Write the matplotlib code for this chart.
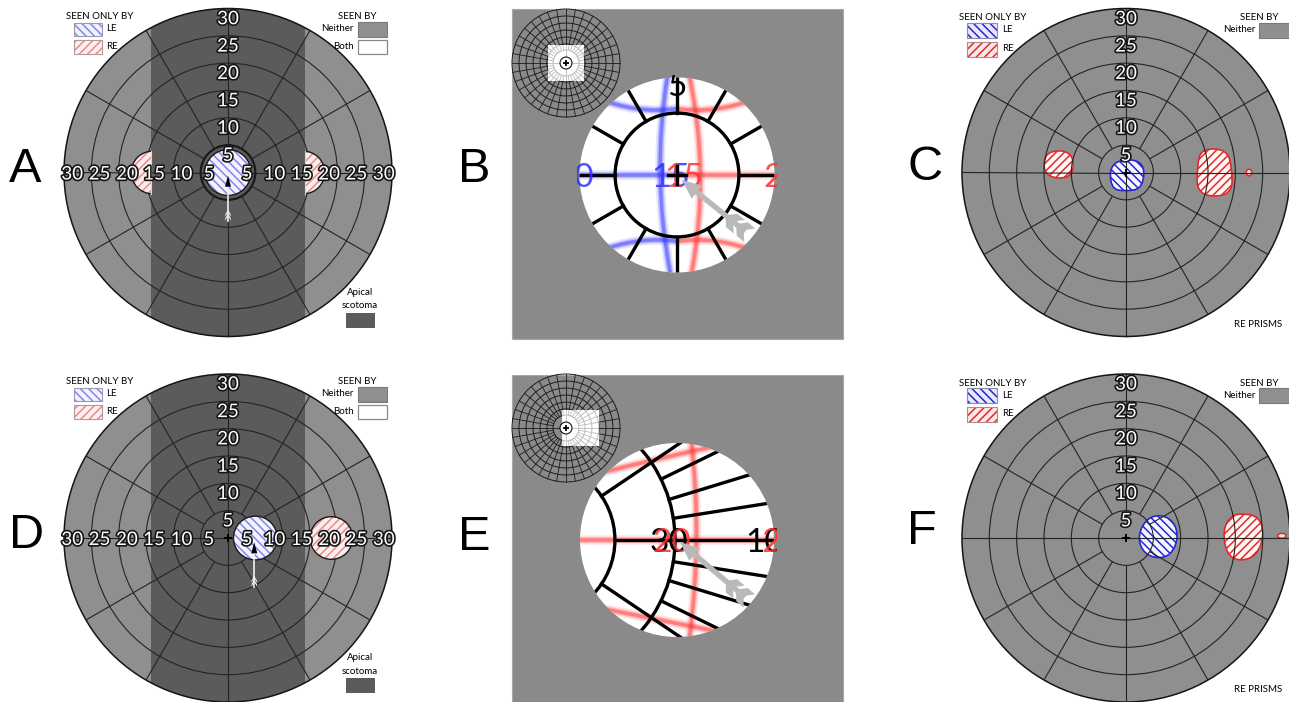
import numpy as np
import matplotlib
matplotlib.use("Agg")
import matplotlib.pyplot as plt
from matplotlib.patches import Circle, Rectangle, Polygon, PathPatch, Ellipse, FancyArrow
from matplotlib.path import Path
import matplotlib.patheffects as pe

plt.rcParams['hatch.linewidth'] = 1.1
plt.rcParams['font.family'] = ['Lato', 'DejaVu Sans']

# ------------------------------------------------------------------ data
panel_letters = ['A', 'B', 'C', 'D', 'E', 'F']
ring_values = [5, 10, 15, 20, 25, 30]            # deg
spoke_angles = list(range(0, 360, 30))           # deg
meridian_labels = ['5', '10', '15', '20', '25', '30']
apical_halfwidth = 14.0                          # deg (apical scotoma band, A & D)

# A / D : seen-only-by regions (x, y, radius) in deg
A_le_circle = (0.0, 0.0, 4.2)
A_re_halfdiscs = [(13.8, 0.0, 3.9, 'right'), (-13.8, 0.0, 3.9, 'left')]
A_arrow = (0.0, -8.8, -0.6)          # x, tail y, tip y
D_le_circle = (5.0, 0.0, 4.0)
D_re_circle = (18.9, 0.0, 3.9)
D_arrow = (4.8, -8.9, -0.8)

# C / F : outlines of regions (control points, deg)
C_le_blob = [(-2.8, 2.2), (3.3, 2.4), (3.2, -2.8), (0.0, -3.5), (-2.9, -2.9)]
C_re_blob_left = [(-15.0, 3.9), (-9.7, 4.0), (-9.6, -1.1), (-15.0, -0.9)]
C_re_blob_right = [(13.9, 4.4), (18.4, 4.2), (19.4, 1.0), (19.4, -4.3), (13.0, -4.3), (13.0, 1.5)]
C_re_spot = (22.5, 0.0, 1.0, 1.2)
F_le_blob = [(6.4, 4.3), (8.8, 3.0), (9.6, 0.0), (8.2, -3.2), (5.4, -3.8),
             (2.9, -2.4), (2.2, 0.6), (3.8, 3.6)]
F_re_blob = [(21.5, 4.5), (24.3, 3.9), (25.3, 0.8), (24.0, -3.2), (20.8, -4.3),
             (18.4, -3.0), (17.7, 1.4), (19.2, 4.1)]
F_re_spot = (28.5, 0.4, 1.5, 0.9)

# small overview grids in B / E
inset_rings = [3.3, 7.2, 10.6, 14.4, 18.3, 22.2, 26.1, 30]
inset_spokes = list(range(0, 360, 10))
B_inset_white = (-10.0, -10.0, 20.0, 20.0)      # x, y, w, h
E_inset_white = (-2.2, -10.0, 20.5, 20.0)

# magnified views (unit = view radius)
B_blue_curves = [[(-0.10, 1.0), (-0.26, 0.0), (-0.07, -1.0)],
                 [(-1.0, 0.0), (-0.5, 0.0), (0.0, 0.0)],
                 [(-0.85, 0.80), (-0.40, 0.62), (0.0, 0.68)],
                 [(-0.85, -0.80), (-0.40, -0.62), (0.0, -0.68)]]
B_red_curves = [[(0.13, 1.0), (0.34, 0.0), (0.15, -1.0)],
                [(0.0, 0.0), (0.5, 0.0), (1.0, 0.0)],
                [(0.0, 0.68), (0.40, 0.62), (0.85, 0.80)],
                [(0.0, -0.68), (0.40, -0.62), (0.85, -0.80)]]
B_ring = 0.635
B_texts = [('5', 0.0, 0.93, 'black'), ('10', -1.05, 0.0, '#3030ff'),
           ('20', 1.08, 0.0, '#ff3030'), ('15', -0.06, 0.0, '#3030ff'),
           ('15', 0.07, 0.0, '#ff3030')]
B_arrow = ((0.70, -0.58), (0.05, -0.05))

E_arc_center = -1.45
E_arcs = [0.81, 1.43]
E_spokes_outer = [9, 17, 26, -9, -17, -26]
E_spokes_inner = [34, -34]
E_red_curves = [[(0.15, 1.0), (0.26, 0.0), (0.13, -1.0)],
                [(-1.0, 0.0), (0.0, 0.0), (1.0, 0.0)],
                [(-0.80, 0.69), (-0.2, 0.84), (0.45, 0.98)],
                [(-0.80, -0.70), (-0.2, -0.82), (0.45, -0.95)]]
E_texts = [('30', -0.08, 0.0, 'black'), ('20', -0.05, 0.0, '#ff3030'),
           ('10', 0.90, 0.0, 'black'), ('2', 0.97, 0.0, '#ff3030')]
E_arrow = ((0.70, -0.59), (0.03, -0.02))

legend_only_by = ['SEEN ONLY BY', 'LE', 'RE']
legend_seen_by = ['SEEN BY', 'Neither', 'Both']
legend_apical = ['Apical', 'scotoma']
prisms_note = 'RE PRISMS'

# ------------------------------------------------------------------ style
W, H, DPI = 1289, 702, 100
SCALE = 164.0 / 30.0          # px per deg
GRID = '#232323'
DISC_AD = '#8f8f8f'
BAND = '#5b5b5b'
DISC_CF = '#8f8f8f'
SQUARE = '#8a8a8a'
BLUE_L, RED_L = '#8585ea', '#e98a8a'
BLUE_S, RED_S = '#2626d6', '#e02a2a'

fig = plt.figure(figsize=(W / DPI, H / DPI), dpi=DPI)

ov = fig.add_axes([0, 0, 1, 1], zorder=0)
ov.set_xlim(0, W); ov.set_ylim(H, 0); ov.set_axis_off()
top = fig.add_axes([0, 0, 1, 1], zorder=20)
top.set_xlim(0, W); top.set_ylim(H, 0); top.set_axis_off()


def add_axes_px(cx, cy, half, scale, z=5):
    ax = fig.add_axes([(cx - half) / W, (H - cy - half) / H, 2 * half / W, 2 * half / H], zorder=z)
    lim = half / scale
    ax.set_xlim(-lim, lim); ax.set_ylim(-lim, lim)
    ax.set_axis_off()
    return ax


def outlined(ax, x, y, s, size=13.5, lw=2.4):
    ax.text(x, y, s, fontsize=size, color='white', ha='center', va='center_baseline',
            path_effects=[pe.Stroke(linewidth=lw, foreground='#161616'), pe.Normal()], zorder=12)


def smooth_closed(pts):
    pts = np.asarray(pts, float)
    n = len(pts)
    mids = (pts + np.roll(pts, -1, axis=0)) / 2
    verts = [mids[-1]]
    codes = [Path.MOVETO]
    for i in range(n):
        verts += [pts[i], mids[i]]
        codes += [Path.CURVE3, Path.CURVE3]
    return Path(verts, codes)


def draw_field(ax, disc_color, band=False, hlabels=True, through=(0, 90, 180, 270), plus=False):
    disc = Circle((0, 0), 30, fc=disc_color, ec='none', zorder=1)
    ax.add_patch(disc)
    if band:
        b = Rectangle((-apical_halfwidth, -31), 2 * apical_halfwidth, 62, fc=BAND, ec='none', zorder=1.2)
        ax.add_patch(b)
        b.set_clip_path(disc)
    for r in ring_values[:-1]:
        ax.add_patch(Circle((0, 0), r, fill=False, ec=GRID, lw=0.8, zorder=3))
    ax.add_patch(Circle((0, 0), 30, fill=False, ec='#151515', lw=1.1, zorder=3))
    for a in spoke_angles:
        t = np.deg2rad(a)
        r0 = 0 if a in through else ring_values[0]
        ax.plot([r0 * np.cos(t), 30 * np.cos(t)], [r0 * np.sin(t), 30 * np.sin(t)],
                color=GRID, lw=0.8, zorder=3, solid_capstyle='butt')
    if plus:
        ax.plot([0], [0], marker='+', ms=6, mew=1.4, color='black', zorder=9)
    for v, s in zip(ring_values, meridian_labels):
        outlined(ax, 0, v - 1.6, s)
        if hlabels:
            outlined(ax, v - 1.5, 0, s)
            outlined(ax, -(v - 1.5), 0, s)


def hatched_circle(ax, x, y, r, fc, hc, hatch, z=4):
    ax.add_patch(Circle((x, y), r, fc=fc, ec=hc, lw=0, hatch=hatch, zorder=z))
    ax.add_patch(Circle((x, y), r, fill=False, ec='#1a1a1a', lw=1.0, zorder=z + 0.1))


def draw_arrow_small(ax, x, y0, y1):
    ax.plot([x, x], [y0, y1 - 1.5], color='#f2f2f2', lw=1.2, zorder=8)
    ax.add_patch(Polygon([(x, y1), (x - 0.55, y1 - 2.0), (x + 0.55, y1 - 2.0)],
                         closed=True, fc='black', ec='none', zorder=9))
    for dy in (0.0, 0.7):
        ax.add_patch(Polygon([(x - 0.5, y0 + dy), (x, y0 + dy + 0.9), (x + 0.5, y0 + dy),
                              (x + 0.5, y0 + dy + 0.4), (x, y0 + dy + 1.3), (x - 0.5, y0 + dy + 0.4)],
                             closed=True, fc='#f4f4f4', ec='none', zorder=9))


def blob(ax, pts, fc, color, hatch):
    p = smooth_closed(pts)
    ax.add_patch(PathPatch(p, fc=fc, ec=color, lw=0, hatch=hatch, zorder=2))
    ax.add_patch(PathPatch(p, fill=False, ec=color, lw=1.2, zorder=2.1))


def spot(ax, spec, color):
    x, y, w, h = spec
    ax.add_patch(Ellipse((x, y), w, h, fc='#f4dede', ec=color, lw=1.1, zorder=2.1))


def gray_arrow(ax, tail, tip, clip):
    tail = np.array(tail); tip = np.array(tip)
    d = tip - tail
    L = np.hypot(*d)
    u = d / L
    n = np.array([-u[1], u[0]])
    arr = FancyArrow(tail[0], tail[1], d[0], d[1], width=0.055, head_width=0.17, head_length=0.2,
                     length_includes_head=True, fc='#b9b9b9', ec='none', zorder=8)
    ax.add_patch(arr); arr.set_clip_path(clip)
    for s0 in (0.02, 0.16):
        for sgn in (1, -1):
            a = tail + u * s0
            pts = [a, a + u * 0.10, a + u * 0.02 + sgn * n * 0.09, a - u * 0.08 + sgn * n * 0.09]
            pg = Polygon(pts, closed=True, fc='#b9b9b9', ec='none', zorder=8)
            ax.add_patch(pg); pg.set_clip_path(clip)


def blurred_curve(ax, ctrl, color, clip):
    path = Path(ctrl, [Path.MOVETO, Path.CURVE3, Path.CURVE3])
    for lw, al in ((7.0, 0.12), (4.5, 0.25), (2.5, 0.45)):
        pp = PathPatch(path, fill=False, ec=color, lw=lw, alpha=al, zorder=4, capstyle='butt')
        ax.add_patch(pp); pp.set_clip_path(clip)


def mag_disc(ax):
    disc = Circle((0, 0), 1.0, fc='white', ec='none', zorder=1)
    ax.add_patch(disc)
    return disc


def clipped_line(ax, xs, ys, clip, **kw):
    ln, = ax.plot(xs, ys, **kw)
    ln.set_clip_path(clip)


def clipped_text(ax, x, y, s, color, clip, size=24):
    t = ax.text(x, y, s, fontsize=size, color=color, ha='center', va='center_baseline',
                zorder=6, clip_on=True, alpha=0.85 if color != 'black' else 1.0)
    t.set_clip_path(clip)


def draw_inset(ax, white_rect):
    x, y, w, h = white_rect
    ax.add_patch(Rectangle((x, y), w, h, fc='white', ec='none', zorder=1))
    for r in inset_rings:
        ax.add_patch(Circle((0, 0), r, fill=False, ec='#1c1c1c', lw=0.7, zorder=2))
    for a in inset_spokes:
        t = np.deg2rad(a)
        r0 = 0 if a % 90 == 0 else inset_rings[1]
        ax.plot([r0 * np.cos(t), 30 * np.cos(t)], [r0 * np.sin(t), 30 * np.sin(t)],
                color='#1c1c1c', lw=0.6, zorder=2)
    ax.add_patch(Rectangle((x, y), w, h, fc='white', ec='none', alpha=0.7, zorder=3))
    ax.add_patch(Circle((0, 0), inset_rings[0], fc='white', ec='#1c1c1c', lw=0.8, zorder=4))
    ax.plot([0], [0], marker='+', ms=4.5, mew=1.3, color='black', zorder=5)


def legend_AD(cx, cy):
    t = top
    t.text(cx - 128, cy - 156, legend_only_by[0], fontsize=7, ha='center', va='center')
    t.add_patch(Rectangle((cx - 154, cy - 150), 28, 13, fc='#f2f2ff', ec=BLUE_L, lw=0, hatch='\\\\\\\\'))
    t.add_patch(Rectangle((cx - 154, cy - 150), 28, 13, fill=False, ec='#9a9ab0', lw=0.8))
    t.text(cx - 122, cy - 144, legend_only_by[1], fontsize=7, ha='left', va='center')
    t.add_patch(Rectangle((cx - 154, cy - 133), 28, 14, fc='#fff0f0', ec=RED_L, lw=0, hatch='////'))
    t.add_patch(Rectangle((cx - 154, cy - 133), 28, 14, fill=False, ec='#b09a9a', lw=0.8))
    t.text(cx - 122, cy - 126, legend_only_by[2], fontsize=7, ha='left', va='center')
    t.text(cx + 129, cy - 156, legend_seen_by[0], fontsize=7, ha='center', va='center')
    t.text(cx + 126, cy - 144, legend_seen_by[1], fontsize=7, ha='right', va='center')
    t.add_patch(Rectangle((cx + 130, cy - 151), 29, 15, fc=DISC_AD, ec='#7a7a7a', lw=0.8))
    t.text(cx + 126, cy - 126, legend_seen_by[2], fontsize=7, ha='right', va='center')
    t.add_patch(Rectangle((cx + 130, cy - 133), 29, 14, fc='white', ec='#8a8a8a', lw=0.9))
    t.text(cx + 132, cy + 120, legend_apical[0], fontsize=7, ha='center', va='center')
    t.text(cx + 132, cy + 133, legend_apical[1], fontsize=7, ha='center', va='center')
    t.add_patch(Rectangle((cx + 118, cy + 140), 28, 14, fc=BAND, ec='#4a4a4a', lw=0.6))


def legend_CF(cx, cy):
    t = top
    t.text(cx - 133, cy - 155, legend_only_by[0], fontsize=7, ha='center', va='center')
    t.add_patch(Rectangle((cx - 159, cy - 150), 30, 15, fc='#e9e9fb', ec=BLUE_S, lw=0, hatch='\\\\\\\\'))
    t.add_patch(Rectangle((cx - 159, cy - 150), 30, 15, fill=False, ec='#8c8cb0', lw=0.8))
    t.text(cx - 124, cy - 143, legend_only_by[1], fontsize=7, ha='left', va='center')
    t.add_patch(Rectangle((cx - 159, cy - 131), 30, 15, fc='#fbe9e9', ec=RED_S, lw=0, hatch='////'))
    t.add_patch(Rectangle((cx - 159, cy - 131), 30, 15, fill=False, ec='#b08c8c', lw=0.8))
    t.text(cx - 124, cy - 124, legend_only_by[2], fontsize=7, ha='left', va='center')
    t.text(cx + 133, cy - 155, legend_seen_by[0], fontsize=7, ha='center', va='center')
    t.text(cx + 129, cy - 143, legend_seen_by[1], fontsize=7, ha='right', va='center')
    t.add_patch(Rectangle((cx + 133, cy - 150), 32, 15, fc=DISC_AD, ec='#7a7a7a', lw=0.8))
    t.text(cx + 132, cy + 152, prisms_note, fontsize=7, ha='center', va='center')


# ------------------------------------------------------------------ panel A / D
for (cx, cy), le, arrow, which in (((228, 172.5), A_le_circle, A_arrow, 'A'),
                                   ((228, 538.0), D_le_circle, D_arrow, 'D')):
    ax = add_axes_px(cx, cy, 172, SCALE)
    draw_field(ax, DISC_AD, band=True, hlabels=True, plus=(which == 'D'))
    if which == 'A':
        ax.add_patch(Circle((0, 0), ring_values[0], fill=False, ec='#1a1a1a', lw=1.6, zorder=3.5))
        for x, y, r, side in A_re_halfdiscs:
            clip = Rectangle((apical_halfwidth, -10) if side == 'right' else (-apical_halfwidth - 10, -10),
                             10, 20, transform=ax.transData)
            c1 = Circle((x, y), r, fc='#fbeeee', ec=RED_L, lw=0, hatch='////', zorder=4)
            c2 = Circle((x, y), r, fill=False, ec='#1a1a1a', lw=1.0, zorder=4.1)
            for c in (c1, c2):
                ax.add_patch(c); c.set_clip_path(clip)
            xe = apical_halfwidth if side == 'right' else -apical_halfwidth
            h = np.sqrt(r ** 2 - (xe - x) ** 2)
            ax.plot([xe, xe], [-h, h], color='#d8d8d8', lw=0.8, zorder=4.2)
    else:
        hatched_circle(ax, *D_re_circle, fc='#fbeeee', hc=RED_L, hatch='////')
    hatched_circle(ax, *le, fc='#f3f3ff', hc=BLUE_L, hatch='\\\\\\\\')
    draw_arrow_small(ax, *arrow)
    legend_AD(cx, cy)

# ------------------------------------------------------------------ panel C / F
for (cx, cy), which in (((1126, 172.5), 'C'), ((1126, 538.0), 'F')):
    ax = add_axes_px(cx, cy, 172, SCALE)
    draw_field(ax, DISC_CF, band=False, hlabels=False,
               through=(0, 90, 180, 270) if which == 'C' else (0, 180), plus=True)
    if which == 'C':
        blob(ax, C_le_blob, '#f6f6ff', BLUE_S, '\\\\\\\\')
        blob(ax, C_re_blob_left, '#fff6f6', RED_S, '////')
        blob(ax, C_re_blob_right, '#fff6f6', RED_S, '////')
        spot(ax, C_re_spot, RED_S)
    else:
        blob(ax, F_le_blob, '#f6f6ff', BLUE_S, '\\\\\\\\')
        blob(ax, F_re_blob, '#fff6f6', RED_S, '////')
        spot(ax, F_re_spot, RED_S)
    legend_CF(cx, cy)

# ------------------------------------------------------------------ panel B / E
ov.add_patch(Rectangle((512, 9), 331, 330, fc=SQUARE, ec='#a8a8a8', lw=0.8))
ov.add_patch(Rectangle((512, 375), 331, 340, fc=SQUARE, ec='#a8a8a8', lw=0.8))

axi = add_axes_px(566, 63, 58, 54 / 30.0)
draw_inset(axi, B_inset_white)
axi = add_axes_px(566, 428, 58, 54 / 30.0)
draw_inset(axi, E_inset_white)

# B magnified view
axb = add_axes_px(677, 175, 100, 97.5)
disc = mag_disc(axb)
for c in B_blue_curves:
    blurred_curve(axb, c, '#3535ff', disc)
for c in B_red_curves:
    blurred_curve(axb, c, '#ff3535', disc)
axb.add_patch(Circle((0, 0), B_ring, fill=False, ec='black', lw=2.4, zorder=5))
for a in spoke_angles:
    t = np.deg2rad(a)
    clipped_line(axb, [B_ring * np.cos(t), np.cos(t)], [B_ring * np.sin(t), np.sin(t)], disc,
                 color='black', lw=2.4, zorder=5)
for s, x, y, col in B_texts:
    clipped_text(axb, x, y, s, col, disc)
clipped_line(axb, [-0.09, 0.09], [0, 0], disc, color='black', lw=2.4, zorder=7)
clipped_line(axb, [0, 0], [-0.09, 0.09], disc, color='black', lw=2.4, zorder=7)
gray_arrow(axb, B_arrow[0], B_arrow[1], disc)

# E magnified view
axe = add_axes_px(677, 540, 100, 97.0)
disc = mag_disc(axe)
for c in E_red_curves:
    blurred_curve(axe, c, '#ff3535', disc)
for R in E_arcs:
    arc = Circle((E_arc_center, 0), R, fill=False, ec='black', lw=2.4, zorder=5)
    axe.add_patch(arc); arc.set_clip_path(disc)
for a in E_spokes_outer:
    t = np.deg2rad(a)
    clipped_line(axe, [E_arc_center + E_arcs[1] * np.cos(t), E_arc_center + 3 * np.cos(t)],
                 [E_arcs[1] * np.sin(t), 3 * np.sin(t)], disc, color='black', lw=2.4, zorder=5)
for a in E_spokes_inner:
    t = np.deg2rad(a)
    clipped_line(axe, [E_arc_center + E_arcs[0] * np.cos(t), E_arc_center + 3 * np.cos(t)],
                 [E_arcs[0] * np.sin(t), 3 * np.sin(t)], disc, color='black', lw=2.4, zorder=5)
clipped_line(axe, [E_arc_center + E_arcs[0], 1.0], [0, 0], disc, color='black', lw=2.4, zorder=5)
for s, x, y, col in E_texts:
    clipped_text(axe, x, y, s, col, disc)
gray_arrow(axe, E_arrow[0], E_arrow[1], disc)

# ------------------------------------------------------------------ panel letters
letter_pos = [(25.5, 170), (474, 170), (925, 168), (27, 535), (474, 537), (922, 532)]
for s, (x, y) in zip(panel_letters, letter_pos):
    top.text(x, y, s, fontsize=35, family='Liberation Sans', ha='center', va='center', color='black')

fig.savefig('out.png', dpi=DPI, facecolor='white')
